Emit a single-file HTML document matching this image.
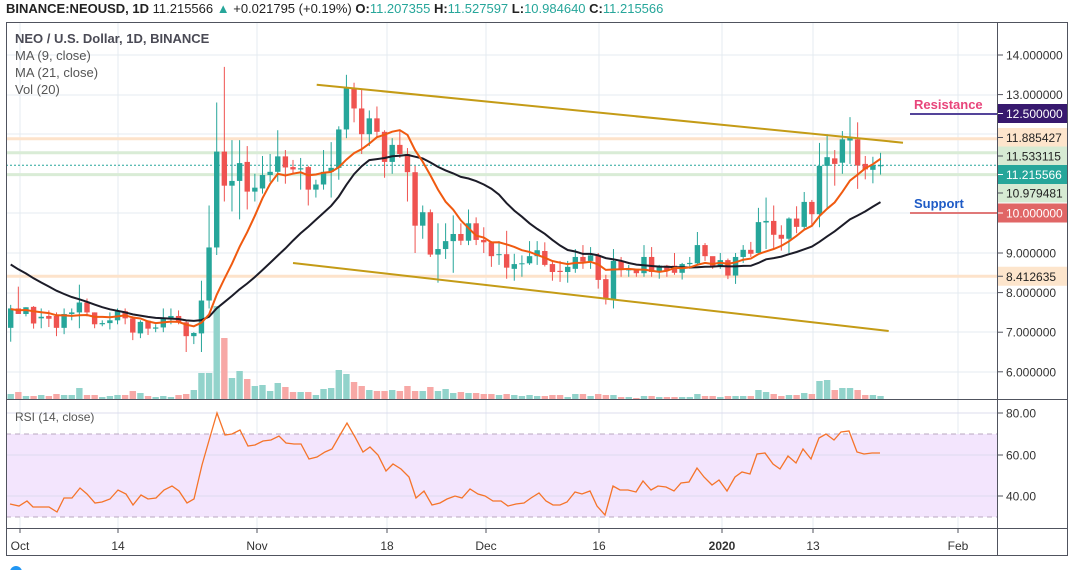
<!DOCTYPE html>
<html><head><meta charset="utf-8"><style>
html,body{margin:0;padding:0;background:#fff;width:1073px;height:570px;overflow:hidden}
svg{display:block;font-family:"Liberation Sans",sans-serif}
</style></head><body>
<svg id="s" width="1073" height="570" xmlns="http://www.w3.org/2000/svg"></svg>
<script>
const D=[
[7.11,7.60,7.69,6.76],[7.60,7.46,8.15,7.46],[7.46,7.63,7.63,7.40],[7.64,7.22,7.66,7.09],[7.35,7.39,7.6,7.1],
[7.41,7.34,7.55,7.13],[7.41,7.11,7.5,6.9],[7.11,7.46,7.6,6.95],[7.46,7.5,7.6,7.3],[7.5,7.75,8.2,7.1],
[7.75,7.5,7.85,7.4],[7.5,7.2,7.5,7.1],[7.2,7.23,7.3,7.15],[7.23,7.3,7.5,7.07],[7.3,7.53,7.6,7.2],
[7.53,7.35,7.6,7.2],[7.35,6.99,7.4,6.8],[6.97,7.26,7.3,6.85],[7.29,7.09,7.3,6.93],[7.09,7.12,7.2,7.0],
[7.12,7.35,7.6,7.0],[7.35,7.41,7.6,7.2],[7.41,7.25,7.55,7.2],[7.25,6.9,7.3,6.5],[6.9,6.98,7.0,6.7],
[6.97,7.8,8.3,6.5],[7.8,9.14,10.2,7.6],[9.14,11.56,12.8,8.95],[11.56,10.7,13.7,10.3],[10.7,10.82,11.85,10.05],
[10.82,11.27,11.85,9.85],[11.3,10.55,11.7,10.1],[10.55,10.65,11.0,10.3],[10.63,10.97,11.45,10.5],[10.97,11.05,11.5,10.8],
[11.05,11.44,12.1,10.8],[11.44,11.16,11.6,10.75],[11.17,11.11,11.35,11.0],[11.11,11.14,11.4,10.6],[11.17,10.6,11.2,10.2],
[10.6,10.73,10.85,10.4],[10.73,11.05,11.6,10.6],[11.05,11.15,11.8,10.4],[11.15,12.12,12.2,10.85],[12.12,13.16,13.5,11.9],
[13.16,12.65,13.3,12.3],[12.65,12.0,13.15,11.5],[12.0,12.4,12.6,11.7],[12.4,12.06,12.7,11.9],[12.06,11.3,12.1,10.9],
[11.3,11.73,11.9,11.0],[11.73,11.5,12.1,11.4],[11.5,11.04,11.65,10.3],[11.04,9.69,11.2,9.0],[9.69,10.03,10.2,9.36],
[10.03,8.96,10.1,8.9],[8.96,9.1,9.75,8.25],[9.1,9.3,9.75,8.85],[9.3,9.48,9.95,8.5],[9.48,9.31,9.75,9.2],
[9.31,9.75,10.1,9.2],[9.75,9.33,9.9,9.2],[9.33,9.27,9.65,9.0],[9.27,8.92,9.3,8.65],[8.95,8.97,9.3,8.7],
[8.97,8.63,9.56,8.35],[8.6,8.72,8.98,8.3],[8.72,8.74,8.94,8.4],[8.74,8.92,9.3,8.7],[8.92,9.07,9.3,8.7],
[9.05,8.7,9.27,8.66],[8.72,8.52,8.8,8.3],[8.55,8.52,8.8,8.27],[8.52,8.65,8.8,8.25],[8.6,8.9,9.1,8.5],
[8.9,8.78,9.2,8.6],[8.8,8.94,9.15,8.6],[8.94,8.32,9.0,8.1],[8.34,7.83,8.45,7.7],[7.83,8.8,9.1,7.6],
[8.8,8.57,8.9,8.4],[8.56,8.6,8.7,8.4],[8.6,8.49,8.6,8.4],[8.49,8.9,9.2,8.4],[8.9,8.52,9.15,8.4],
[8.52,8.68,8.7,8.35],[8.68,8.56,8.7,8.4],[8.68,8.5,9.0,8.45],[8.5,8.72,8.75,8.33],[8.72,8.75,8.9,8.6],
[8.74,9.2,9.53,8.7],[9.2,8.92,9.25,8.8],[8.92,8.65,8.9,8.6],[8.65,8.82,9.0,8.6],[8.82,8.43,8.86,8.34],
[8.43,8.9,9.0,8.22],[8.9,9.08,9.2,8.75],[9.08,8.98,9.28,8.9],[9.0,9.78,10.14,9.0],[9.77,9.81,10.4,9.1],
[9.81,9.46,10.2,9.08],[9.46,9.36,9.7,9.06],[9.36,9.87,9.9,9.0],[9.87,9.66,10.18,9.5],[9.66,10.29,10.54,9.6],
[10.29,9.98,10.34,9.7],[9.98,11.2,11.78,9.65],[11.2,11.42,12.0,10.1],[11.39,11.25,11.6,10.7],[11.28,11.87,12.08,11.0],
[11.84,11.92,12.43,11.25],[11.87,11.21,12.3,10.62],[11.25,11.11,11.45,10.86],[11.1,11.22,11.43,10.76],[11.207,11.2156,11.53,10.98]];
const V=[5,7,3,3,4,3,5,4,4,11,4,4,2,3,4,4,8,6,3,2,3,2,4,5,9,26,26,93,61,21,28,20,13,14,8,16,12,7,7,7,4,10,11,29,25,17,13,9,8,8,9,8,13,8,8,12,8,10,6,7,6,6,5,5,4,5,4,3,4,3,3,4,4,2,5,5,3,5,4,4,2,2,1,3,3,2,2,2,2,2,5,3,3,2,3,3,3,3,9,7,5,3,4,4,6,5,18,19,9,11,11,9,4,4,3];
const R=[[10,504],[19,506],[27,501],[33,507],[49,507],[57,512],[64,498],[72,498],[80,488],[87,494],[95,503],[102,502],[110,499],[118,490],[126,494],[133,505],[141,495],[148,499],[156,498],[164,490],[172,486],[179,491],[187,503],[194,499],[202,465],[210,437],[217,413],[225,435],[232,434],[240,430],[248,446],[255,445],[263,441],[271,440],[279,436],[286,443],[294,444],[301,444],[309,459],[317,457],[325,452],[332,449],[340,435],[347,423],[355,437],[363,452],[370,447],[378,455],[386,471],[393,464],[401,469],[409,477],[416,498],[424,491],[432,505],[440,503],[447,499],[455,496],[462,498],[470,489],[478,494],[485,496],[493,501],[501,501],[508,506],[516,504],[524,503],[531,498],[539,493],[546,501],[553,505],[560,505],[567,502],[575,492],[582,494],[590,491],[597,506],[605,515],[613,486],[620,490],[628,490],[636,492],[643,481],[651,490],[658,486],[666,487],[674,491],[681,483],[689,482],[697,468],[704,477],[712,485],[719,480],[727,491],[735,477],[742,472],[750,474],[757,454],[765,453],[773,464],[780,469],[788,456],[796,463],[803,449],[811,459],[819,438],[826,434],[834,440],[841,432],[849,431],[857,452],[864,454],[872,453],[880,453]];
const Y=p=>55+(14-p)*39.6, X=i=>10.7+i*7.63;
let h='';
const L=(x1,y1,x2,y2,c,w,e)=>h+=`<line x1="${x1}" y1="${y1}" x2="${x2}" y2="${y2}" stroke="${c}" stroke-width="${w}" ${e||''}/>`;
const T=(x,y,t,a)=>h+=`<text x="${x}" y="${y}" ${a||''}>${t}</text>`;
[20,118,257,387,486,599,722,813,958].forEach(x=>{L(x,22,x,528,'#e4ebf1',1)});
[55,95,134,174,213,253,293,332,372].forEach(y=>L(6,y,998,y,'#e4ebf1',1));
h+=`<rect x="6" y="434" width="992" height="83" fill="#f3e5fd"/>`;
[413,455,496].forEach(y=>L(6,y,998,y,'#dcdcee',1));
L(6,434,998,434,'#b8a8c0',1,'stroke-dasharray="5,4"');L(6,517,998,517,'#b8a8c0',1,'stroke-dasharray="5,4"');
L(6,Y(11.885427),1000,Y(11.885427),'#fde3cb',3);
L(6,Y(11.533115),1000,Y(11.533115),'#d9ecd6',3);
L(6,Y(10.979481),1000,Y(10.979481),'#d9ecd6',3);
L(6,Y(8.412635),1000,Y(8.412635),'#fde3cb',3);
L(6,Y(11.215566),1000,Y(11.215566),'#26a69a',1,'stroke-dasharray="2,2"');
V.forEach((v,i)=>{const up=D[i][1]>=D[i][0];h+=`<rect x="${X(i)-3.2}" y="${399-v}" width="6.4" height="${v}" fill="${up?'#92d3cb':'#f7a8a6'}"/>`});
D.forEach((d,i)=>{const[o,c,hi,lo]=d,up=c>=o,col=up?'#26a69a':'#ef5350',x=X(i);L(x,Y(hi),x,Y(lo),col,1);const t=Y(Math.max(o,c)),b=Y(Math.min(o,c));h+=`<rect x="${x-2.7}" y="${t}" width="5.4" height="${Math.max(1,b-t)}" fill="${col}"/>`});
const C=D.map(d=>d[1]);
const pre21=[];for(let k=0;k<20;k++)pre21.push(10.0-k*0.13);
const pre9=[7.7,7.6,7.5,7.6,7.55,7.6,7.5,7.6];
function ma(pre,n){const a=pre.concat(C);let pts=[];for(let i=0;i<C.length;i++){let s=0;for(let k=0;k<n;k++)s+=a[i+pre.length-k];pts.push(X(i).toFixed(1)+','+Y(s/n).toFixed(1))}return pts.join(' ')}
h+=`<polyline points="${ma(pre21,21)}" fill="none" stroke="#1c1c28" stroke-width="2"/>`;
h+=`<polyline points="${ma(pre9,9)}" fill="none" stroke="#f05a10" stroke-width="2"/>`;
L(316.7,84.7,903,142.7,'#c49b16',2);L(293,263,888.7,331,'#c49b16',2);
h+=`<polyline points="${R.map(p=>p.join(',')).join(' ')}" fill="none" stroke="#f5742a" stroke-width="1.3"/>`;
L(910,114,998,114,'#54449a',2);L(910,213,998,213,'#e07878',2);
T(914,109,'Resistance','fill="#e8457b" font-size="13" font-weight="bold"');
T(914,208,'Support','fill="#1e5bc6" font-size="13" font-weight="bold"');
h+=`<rect x="6.5" y="22.5" width="1061" height="533" fill="none" stroke="#50535e" stroke-width="1"/>`;
L(6,399.5,1068,399.5,'#50535e',1);L(6,528.5,1068,528.5,'#50535e',1);L(997.5,22,997.5,556,'#50535e',1);
[[20,'Oct'],[118,'14'],[257,'Nov'],[387,'18'],[486,'Dec'],[599,'16'],[722,'2020'],[813,'13'],[958,'Feb']].forEach(([x,t])=>{L(x,528,x,533,'#50535e',1);T(x,550,t,`text-anchor="middle" font-size="12" fill="#333" ${t=='2020'?'font-weight="bold"':''}`)});
const lab=(y,txt,bg,fg)=>{if(bg)h+=`<rect x="998" y="${y-9.5}" width="69" height="19" fill="${bg}"/>`;L(998,y,1003,y,fg=='#fff'?'#fff':'#50535e',1);T(1006,y+4.5,txt,`font-size="12" fill="${fg}"`)};
[[14,'14.000000'],[13,'13.000000'],[9,'9.000000'],[8,'8.000000'],[7,'7.000000'],[6,'6.000000']].forEach(a=>lab(Y(a[0]),a[1],null,'#333'));
lab(113.5,'12.500000','#37196e','#fff');
lab(137.5,'11.885427','#fde5cc','#222');
lab(156,'11.533115','#d6ead3','#222');
lab(193,'10.979481','#d6ead3','#222');
lab(174.5,'11.215566','#26a69a','#fff');
lab(213,'10.000000','#e06666','#fff');
lab(Y(8.412635),'8.412635','#fde5cc','#222');
[[413,'80.00'],[455,'60.00'],[496,'40.00']].forEach(([y,t])=>{L(998,y,1003,y,'#50535e',1);T(1006,y+4.5,t,'font-size="12" fill="#333"')});
T(15,43,'NEO / U.S. Dollar, 1D, BINANCE','font-size="13" fill="#4a4a55" font-weight="bold"');
T(15,60,'MA (9, close)','font-size="13" fill="#555"');
T(15,77,'MA (21, close)','font-size="13" fill="#555"');
T(15,94,'Vol (20)','font-size="13" fill="#555"');
T(15,421,'RSI (14, close)','font-size="12" fill="#555"');
h+=`<text x="6" y="13" font-size="13" fill="#222"><tspan font-weight="bold">BINANCE:NEOUSD, 1D</tspan> 11.215566 <tspan fill="#26a69a">▲</tspan> +0.021795 (+0.19%) <tspan font-weight="bold">O:</tspan><tspan fill="#26a69a">11.207355</tspan> <tspan font-weight="bold">H:</tspan><tspan fill="#26a69a">11.527597</tspan> <tspan font-weight="bold">L:</tspan><tspan fill="#26a69a">10.984640</tspan> <tspan font-weight="bold">C:</tspan><tspan fill="#26a69a">11.215566</tspan></text>`;
h+=`<circle cx="16" cy="572" r="6" fill="#2196f3"/>`;
document.getElementById('s').innerHTML=h;
</script>
</body></html>
